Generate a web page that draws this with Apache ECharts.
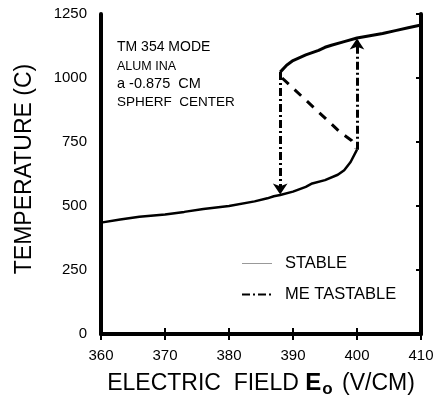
<!DOCTYPE html>
<html>
<head>
<meta charset="utf-8">
<script src="https://cdn.jsdelivr.net/npm/echarts@6/dist/echarts.min.js"></script>
<style>
  html, body { margin: 0; padding: 0; background: #fff; }
  #chart { width: 433px; height: 395px; }
</style>
</head>
<body>
<div id="chart"></div>
<script>
// field E0 (V/CM) and temperature (C)
var lowerField = [360, 363, 366, 370, 373, 376, 380, 384, 386, 387, 388, 390, 392, 393, 395, 397, 398, 399, 400];
var lowerTemp = [435, 447, 458, 467, 477, 488, 500, 518, 530, 538, 543, 556, 575, 588, 601, 622, 640, 672, 720];

var upperField = [388, 389, 390, 392, 394, 395, 396, 398, 400, 402, 404, 406, 408, 410];
var upperTemp = [1023, 1050, 1068, 1090, 1108, 1120, 1128, 1142, 1156, 1165, 1174, 1185, 1196, 1207];

var unstableField = [388.3, 397.3, 399.2, 399.8];
var unstableTemp = [1000, 790, 755, 725];

// metastable jumps: [field, from temp, to temp]
var jumpDown = [388, 1023, 545];
var jumpUp = [400, 720, 1154];

var xTicks = [360, 370, 380, 390, 400, 410];
var yTicks = [0, 250, 500, 750, 1000, 1250];

var notes = ['TM 354 MODE', 'ALUM INA', 'a -0.875  CM', 'SPHERF  CENTER'];

function pairs(xs, ys) {
  return xs.map(function (x, i) { return [x, ys[i]]; });
}

var chartDom = document.getElementById('chart');
var myChart = echarts.init(chartDom);
var option;

var font = 'Liberation Sans, Arial, sans-serif';
var dashDot = [8, 3, 2, 3];

option = {
  animation: false,
  backgroundColor: '#fff',
  textStyle: { fontFamily: font, color: '#000' },
  grid: { left: 101, right: 12, top: 14, bottom: 61, containLabel: false, outerBoundsMode: 'none' },
  legend: {
    orient: 'vertical',
    left: 236,
    top: 250,
    itemGap: 14,
    itemWidth: 30,
    itemHeight: 10,
    itemStyle: { opacity: 0 },
    data: [
      { name: 'STABLE', lineStyle: { color: '#999', width: 1 } },
      { name: 'ME TASTABLE' }
    ],
    textStyle: {
      fontFamily: font,
      fontSize: 16.5,
      color: '#000',
      padding: [0, 0, 0, 8]
    }
  },
  graphic: notes.map(function (t, i) {
    return {
      type: 'text',
      left: 117,
      top: [40, 60, 76, 95][i],
      style: {
        text: t,
        fontFamily: font,
        fontSize: [14, 12.5, 14.5, 13.5][i],
        fill: '#000'
      }
    };
  }),
  xAxis: [
    {
      type: 'value',
      min: xTicks[0],
      max: xTicks[xTicks.length - 1],
      interval: 10,
      name: 'ELECTRIC  FIELD {e|E}{sub|o} (V/CM)',
      nameLocation: 'middle',
      nameGap: 35,
      nameTextStyle: {
        fontFamily: font,
        fontSize: 23,
        color: '#000',
        rich: {
          e: { fontFamily: font, fontSize: 24, fontWeight: 'bold', color: '#000' },
          sub: { fontFamily: font, fontSize: 17, fontWeight: 'bold', color: '#000', padding: [12, 3, 0, 1] }
        }
      },
      splitLine: { show: false },
      axisLine: { lineStyle: { color: '#000', width: 4 } },
      axisTick: { inside: true, length: 6, lineStyle: { color: '#000', width: 2 } },
      axisLabel: { fontSize: 15, color: '#000', margin: 14, fontFamily: font }
    },
    {
      type: 'value',
      position: 'top',
      min: xTicks[0],
      max: xTicks[xTicks.length - 1],
      interval: 10,
      splitLine: { show: false },
      axisLine: { lineStyle: { color: '#000', width: 3 } },
      axisTick: { inside: true, length: 6, lineStyle: { color: '#000', width: 2 } },
      axisLabel: { show: false }
    }
  ],
  yAxis: [
    {
      type: 'value',
      min: yTicks[0],
      max: yTicks[yTicks.length - 1],
      interval: 250,
      name: 'TEMPERATURE (C)',
      nameLocation: 'middle',
      nameGap: 65,
      nameTextStyle: { fontFamily: font, fontSize: 23, color: '#000', padding: [0, 0, 0, 10] },
      splitLine: { show: false },
      axisLine: { lineStyle: { color: '#000', width: 4 } },
      axisTick: { show: false },
      axisLabel: {
        fontSize: 15, color: '#000', margin: 14, fontFamily: font,
        formatter: function (v) { return String(v); }
      }
    },
    {
      type: 'value',
      position: 'right',
      min: yTicks[0],
      max: yTicks[yTicks.length - 1],
      interval: 250,
      splitLine: { show: false },
      axisLine: { lineStyle: { color: '#000', width: 4 } },
      axisTick: { inside: true, length: 5, lineStyle: { color: '#000', width: 2 } },
      axisLabel: { show: false }
    }
  ],
  series: [
    {
      name: 'STABLE',
      type: 'line',
      symbol: 'none',
      color: '#000',
      lineStyle: { color: '#000', width: 2.5 },
      data: pairs(lowerField, lowerTemp)
    },
    {
      name: 'STABLE',
      type: 'line',
      symbol: 'none',
      color: '#000',
      lineStyle: { color: '#000', width: 3 },
      data: pairs(upperField, upperTemp)
    },
    {
      name: 'UNSTABLE',
      type: 'line',
      symbol: 'none',
      color: '#000',
      lineStyle: { color: '#000', width: 3, type: [9, 8] },
      data: pairs(unstableField, unstableTemp)
    },
    {
      name: 'ME TASTABLE',
      type: 'line',
      symbol: 'none',
      color: '#000',
      lineStyle: { color: '#000', width: 3, type: dashDot },
      data: [],
      markLine: {
        silent: true,
        symbol: ['none', 'arrow'],
        symbolSize: 11,
        label: { show: false },
        itemStyle: { color: '#000' },
        lineStyle: { color: '#000', width: 3, type: dashDot },
        data: [
          [{ coord: [jumpDown[0], jumpDown[1]] }, { coord: [jumpDown[0], jumpDown[2]] }],
          [{ coord: [jumpUp[0], jumpUp[1]] }, { coord: [jumpUp[0], jumpUp[2]] }]
        ]
      }
    }
  ]
};

option && myChart.setOption(option);
</script>
</body>
</html>
